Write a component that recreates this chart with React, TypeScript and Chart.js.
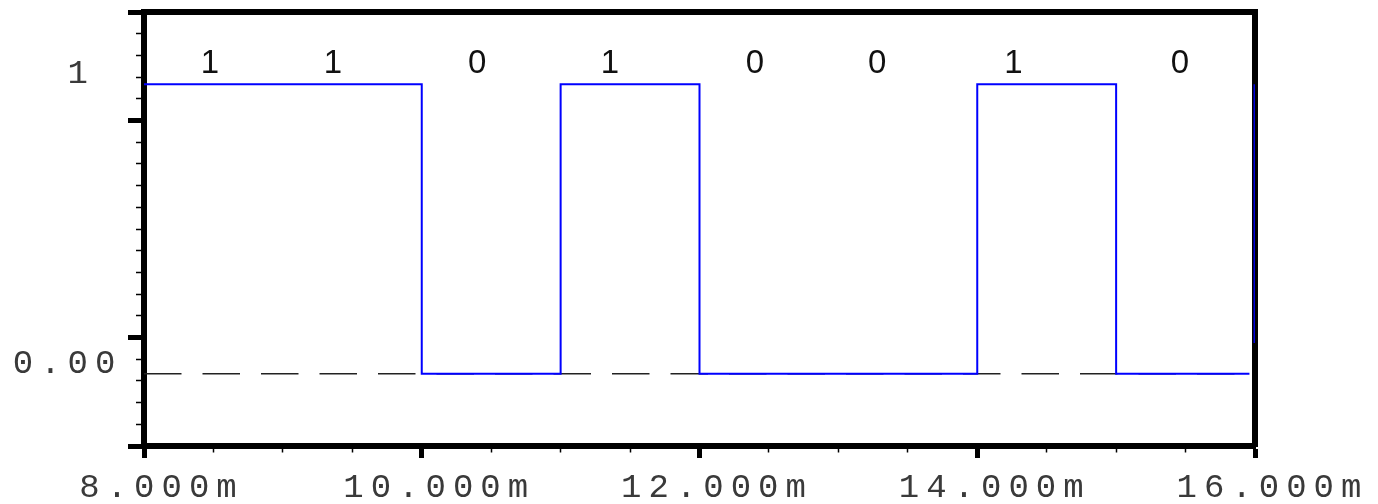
import React, { useEffect, useRef } from 'react';
import { Chart, registerables } from 'chart.js';

Chart.register(...registerables);

// ---- data ----
const bits = [1, 1, 0, 1, 0, 0, 1, 0];
const bitStartTimes = [8, 9, 10, 11, 12, 13, 14, 15];
const signalEndTime = 15.96;
const bitLabels = ['1', '1', '0', '1', '0', '0', '1', '0'];
const bitLabelX = [8.475, 9.36, 10.4, 11.355, 12.4, 13.28, 14.26, 15.46];
const bitLabelY = 1.07;
const edgeX = [16, 16];
const edgeY = [0.106, 1];
const zeroLineX = [8, 16];
const zeroLineY = [0, 0];

// ---- axes ----
const xMin = 8;
const xMax = 16;
const xStep = 0.5;
const xMajorTicks = [8, 10, 12, 14, 16];
const yMin = -0.25;
const yMax = 1.25;
const yTickMarks = [
  -0.25, -0.175, -0.1, -0.025, 0.05, 0.125, 0.2, 0.275, 0.35, 0.425, 0.5,
  0.575, 0.65, 0.725, 0.8, 0.875, 0.95, 1.025, 1.1, 1.175, 1.25,
];
const yMajorTickMarks = [-0.25, 0.125, 0.875, 1.25];
const yLabelValues = [0, 1];
const yLabelTexts = ['0.00', '1 '];

const monoFamily = "'Liberation Mono', 'Courier New', monospace";

const near = (a: number, b: number) => Math.abs(a - b) < 1e-6;
const isMajorX = (v: number) => xMajorTicks.some((m) => near(m, v));
const isMajorY = (v: number) => yMajorTickMarks.some((m) => near(m, v));

const spacingPlugin = {
  id: 'letterSpacingTicks',
  beforeDraw(chart: any) {
    chart.ctx.letterSpacing = '7px';
  },
  beforeDatasetsDraw(chart: any) {
    chart.ctx.letterSpacing = '0px';
  },
};

const bitLabelPlugin = {
  id: 'bitLabels',
  afterDatasetsDraw(chart: any) {
    const { ctx, scales } = chart;
    ctx.save();
    ctx.letterSpacing = '0px';
    ctx.font = '33px "Liberation Sans", Arial, sans-serif';
    ctx.fillStyle = '#111';
    ctx.textAlign = 'center';
    ctx.textBaseline = 'middle';
    bitLabels.forEach((t, i) => {
      ctx.fillText(
        t,
        scales.x.getPixelForValue(bitLabelX[i]),
        scales.y.getPixelForValue(bitLabelY)
      );
    });
    ctx.restore();
  },
};

export default function App() {
  const ref = useRef<HTMLCanvasElement>(null);

  useEffect(() => {
    const canvas = ref.current!;
    const signalPoints = bits
      .map((b, i) => ({ x: bitStartTimes[i], y: b }))
      .concat([{ x: signalEndTime, y: bits[bits.length - 1] }]);
    const edgePoints = edgeX.map((x, i) => ({ x, y: edgeY[i] }));
    const zeroPoints = zeroLineX.map((x, i) => ({ x, y: zeroLineY[i] }));

    const chart = new Chart(canvas, {
      type: 'line',
      data: {
        datasets: [
          {
            data: signalPoints,
            borderColor: '#0000ff',
            borderWidth: 2,
            stepped: true,
            pointRadius: 0,
            fill: false,
            tension: 0,
          },
          {
            data: edgePoints,
            borderColor: '#0000e0',
            borderWidth: 3,
            pointRadius: 0,
            fill: false,
          },
          {
            data: zeroPoints,
            borderColor: '#222222',
            borderWidth: 1.5,
            borderDash: [37.5, 21],
            pointRadius: 0,
            fill: false,
          },
        ],
      },
      options: {
        animation: false,
        responsive: false,
        devicePixelRatio: 1,
        layout: { padding: { top: 12, right: 123, bottom: 0, left: 0 } },
        plugins: {
          legend: { display: false },
          tooltip: { enabled: false },
        },
        scales: {
          x: {
            type: 'linear',
            position: 'bottom',
            min: xMin,
            max: xMax,
            afterFit: (s: any) => {
              s.height = 58;
              s.paddingLeft = 0;
              s.paddingRight = 0;
            },
            ticks: {
              stepSize: xStep,
              autoSkip: false,
              maxRotation: 0,
              minRotation: 0,
              padding: 13,
              labelOffset: 17.5,
              color: '#3a3a3a',
              font: { family: monoFamily, size: 34, lineHeight: 1 },
              callback: (v: any) => (isMajorX(Number(v)) ? Number(v).toFixed(3) + 'm' : ''),
            },
            grid: {
              drawOnChartArea: false,
              drawTicks: true,
              tickLength: 12,
              lineWidth: 1,
              tickColor: '#000',
              tickWidth: (c: any) => (c.tick && isMajorX(c.tick.value) ? 5 : 1.5),
              tickBorderDash: (c: any) => (c.tick && isMajorX(c.tick.value) ? [] : [3.5, 50]),
            },
            border: { display: true, width: 6, color: '#000' },
          },
          xTop: {
            type: 'linear',
            position: 'top',
            min: xMin,
            max: xMax,
            afterFit: (s: any) => {
              s.height = 0;
              s.paddingLeft = 0;
              s.paddingRight = 0;
            },
            ticks: { display: false },
            grid: { display: false, drawTicks: false, drawOnChartArea: false },
            border: { display: true, width: 6, color: '#000' },
          },
          y: {
            type: 'linear',
            position: 'left',
            min: yMin,
            max: yMax,
            afterBuildTicks: (s: any) => {
              s.ticks = [...yTickMarks, ...yLabelValues].map((v) => ({ value: v }));
            },
            afterFit: (s: any) => {
              s.width = 144;
              s.paddingTop = 0;
              s.paddingBottom = 0;
            },
            ticks: {
              autoSkip: false,
              padding: 5.6,
              labelOffset: -10,
              color: '#3a3a3a',
              font: { family: monoFamily, size: 34, lineHeight: 1 },
              callback: (v: any) => {
                const i = yLabelValues.findIndex((l) => near(l, Number(v)));
                return i >= 0 ? yLabelTexts[i] : '';
              },
            },
            grid: {
              drawOnChartArea: false,
              drawTicks: true,
              tickLength: 16,
              lineWidth: 1,
              tickColor: (c: any) => (c.index >= yTickMarks.length ? 'rgba(0,0,0,0)' : '#000'),
              tickWidth: (c: any) =>
                c.index >= yTickMarks.length ? 0 : c.tick && isMajorY(c.tick.value) ? 5 : 1.5,
              tickBorderDash: (c: any) =>
                c.tick && isMajorY(c.tick.value) ? [] : [0, 8, 20, 100],
            },
            border: { display: true, width: 6, color: '#000' },
          },
          yRight: {
            type: 'linear',
            position: 'right',
            min: yMin,
            max: yMax,
            afterFit: (s: any) => {
              s.width = 0;
              s.paddingTop = 0;
              s.paddingBottom = 0;
            },
            ticks: { display: false },
            grid: { display: false, drawTicks: false, drawOnChartArea: false },
            border: { display: true, width: 6, color: '#000' },
          },
        },
      } as any,
      plugins: [spacingPlugin, bitLabelPlugin],
    });
    return () => chart.destroy();
  }, []);

  return (
    <div
      style={{
        position: 'fixed',
        left: 0,
        top: 0,
        width: 1378,
        height: 504,
        background: '#ffffff',
      }}
    >
      <canvas
        ref={ref}
        width={1378}
        height={504}
        style={{ display: 'block', width: 1378, height: 504 }}
      />
    </div>
  );
}
